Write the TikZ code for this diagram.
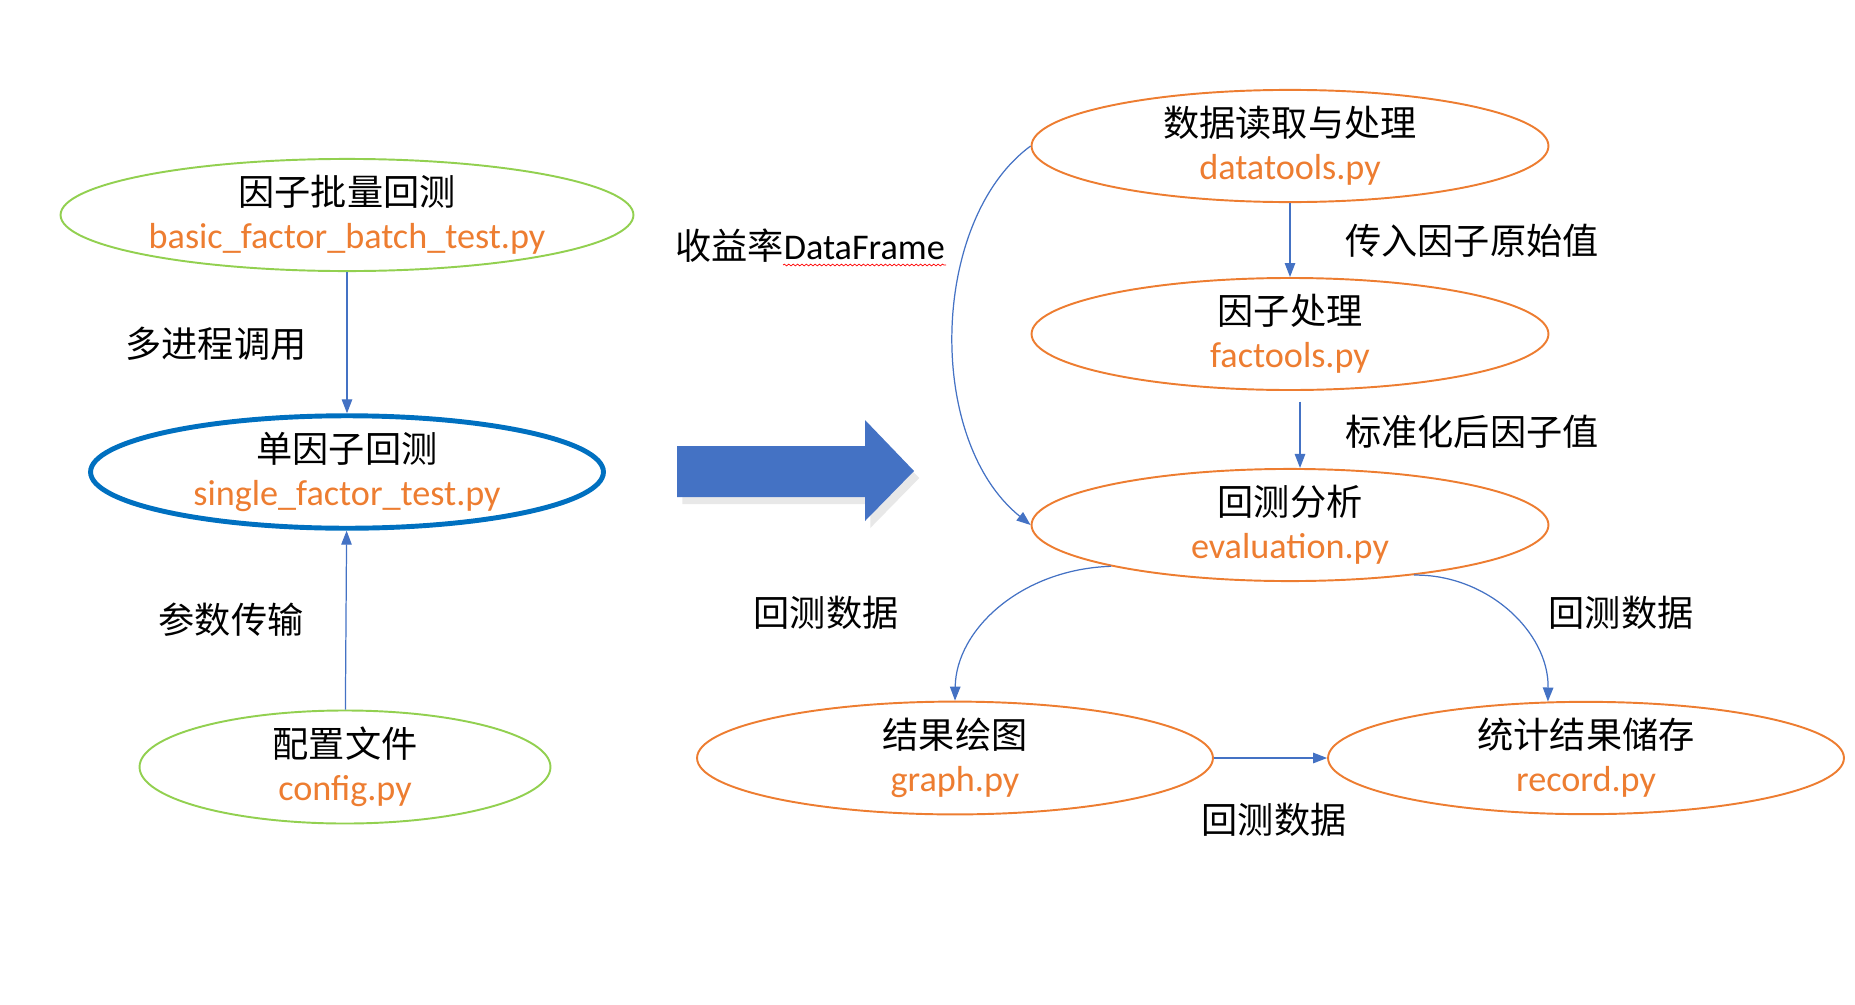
\documentclass[tikz,border=0pt]{standalone}
\usepackage{fontspec}
\setmainfont{Carlito}
\newfontfamily\cjk{Noto Sans CJK SC}
\usetikzlibrary{shapes.geometric,arrows.meta,shadows,decorations.pathmorphing}
\definecolor{linkc}{HTML}{4472C4}
\definecolor{filec}{HTML}{ED7D31}
\definecolor{cfgc}{HTML}{92D050}
\definecolor{mainc}{HTML}{0070C0}

\begin{document}
\begin{tikzpicture}[x=0.02cm,y=-0.02cm,
  font=\fontsize{20.6}{24.5}\selectfont,
  mod/.style={ellipse,draw=filec,line width=1.1pt,inner sep=0pt,align=center,
    minimum width=10.34cm,minimum height=2.22cm},
  cfg/.style={mod,draw=cfgc},
  flow/.style={linkc,line width=0.7pt,-{Triangle[width=0.21cm,length=0.28cm]}},
  lbl/.style={font=\fontsize{20.6}{24.5}\selectfont\cjk}]
  \useasboundingbox (0,0) rectangle (1855,1004);

  % left column
  \node[cfg,minimum width=11.46cm] (batch) at (347,215)
    {{\cjk 因子批量回测}\\{\color{filec}basic\_factor\_batch\_test.py}};
  \node[mod,draw=mainc,line width=2.8pt,minimum width=10.26cm,minimum height=2.14cm] (single) at (347,472)
    {{\cjk 单因子回测}\\{\color{filec}single\_factor\_test.py}};
  \node[cfg,minimum width=8.22cm] (config) at (345,767)
    {{\cjk 配置文件}\\{\color{filec}config.py}};
  \draw[flow] (batch) -- (single);
  \draw[flow] (config) -- (single);
  \node[lbl] (lblcall) at (216,344) {多进程调用};
  \node[lbl] (lblparam) at (231,620) {参数传输};

  % big arrow
  \fill[linkc,drop shadow={opacity=0.18,shadow xshift=3pt,shadow yshift=-4pt}]
    (677,446) -- (865,446) -- (865,420) -- (914,471) -- (865,521) -- (865,497) -- (677,497) -- cycle;

  % right side
  \node[mod] (data) at (1290,146)
    {{\cjk 数据读取与处理}\\{\color{filec}datatools.py}};
  \node[mod] (fact) at (1290,334)
    {{\cjk 因子处理}\\{\color{filec}factools.py}};
  \node[mod] (eval) at (1290,525)
    {{\cjk 回测分析}\\{\color{filec}evaluation.py}};
  \node[mod,minimum width=10.32cm] (graph) at (955,758)
    {{\cjk 结果绘图}\\{\color{filec}graph.py}};
  \node[mod,minimum width=10.32cm] (record) at (1586,758)
    {{\cjk 统计结果储存}\\{\color{filec}record.py}};

  \draw[flow] (data) -- (fact);
  \draw[flow,shorten <=6pt] ([xshift=0.2cm]fact.south) -- ([xshift=0.2cm]eval.north);
  \draw[flow] (data.west) .. controls (930,220) and (925,440) .. (eval.west);
  \draw[flow] (eval.193) .. controls (1022,569) and (956,629) .. (graph.north);
  \draw[flow] (eval.338) .. controls (1487,574) and (1549,632) .. (record.124);
  \draw[flow] (graph) -- (record);

  \node[lbl] (lblret) at (810,246) {收益率{\fontspec{Carlito}DataFrame}};
  \draw[red,line width=0.4pt,decorate,decoration={snake,amplitude=0.5pt,segment length=2.5pt}]
    (783,265) -- (946,265); % spell-check squiggle
  \node[lbl] (lblraw) at (1472,241) {传入因子原始值};
  \node[lbl] (lblstd) at (1472,432) {标准化后因子值};
  \node[lbl] (lblbt1) at (826,613) {回测数据};
  \node[lbl] (lblbt2) at (1621,613) {回测数据};
  \node[lbl] (lblbt3) at (1274,820) {回测数据};
\end{tikzpicture}
\end{document}
